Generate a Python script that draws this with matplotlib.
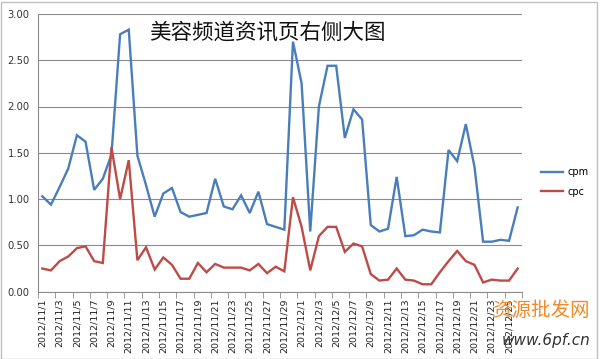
import matplotlib
matplotlib.use("Agg")
import matplotlib.pyplot as plt
from matplotlib.patches import Rectangle
import numpy as np
import datetime as dt

plt.rcParams['font.family'] = ['DejaVu Sans', 'Noto Sans CJK SC']

start = dt.date(2012, 11, 1)
dates = [start + dt.timedelta(days=i) for i in range(56)]
categories = [f"{d.year}/{d.month}/{d.day}" for d in dates]

cpm = [1.03, 0.94, 1.13, 1.33, 1.69, 1.62, 1.10, 1.22, 1.48, 2.78, 2.83,
       1.47, 1.15, 0.81, 1.06, 1.12, 0.86, 0.81, 0.83, 0.85, 1.22,
       0.92, 0.89, 1.04, 0.85, 1.08, 0.73, 0.70, 0.67, 2.70, 2.25,
       0.65, 2.00, 2.44, 2.44, 1.66, 1.97, 1.86, 0.72, 0.65, 0.68,
       1.24, 0.60, 0.61, 0.67, 0.65, 0.64, 1.53, 1.41, 1.81, 1.35,
       0.54, 0.54, 0.56, 0.55, 0.91]
cpc = [0.25, 0.23, 0.33, 0.38, 0.47, 0.49, 0.33, 0.31, 1.56, 1.00, 1.42,
       0.34, 0.48, 0.24, 0.37, 0.29, 0.14, 0.14, 0.31, 0.21, 0.30,
       0.26, 0.26, 0.26, 0.23, 0.30, 0.20, 0.27, 0.22, 1.02, 0.70,
       0.23, 0.60, 0.70, 0.70, 0.43, 0.52, 0.49, 0.19, 0.12, 0.13,
       0.25, 0.13, 0.12, 0.08, 0.08, 0.21, 0.33, 0.44, 0.33, 0.29,
       0.10, 0.13, 0.12, 0.12, 0.25]
series_names = ["cpm", "cpc"]
title = "美容频道资讯页右侧大图"

fig = plt.figure(figsize=(6.0, 3.59), dpi=100)
ax = fig.add_axes([38/600, 1 - 291.7/359, (522-38)/600, (291.7-13.9)/359])

# light frame like the spreadsheet chart area
fig.patches.append(Rectangle((0.5/600, 0), 596/600, 1 - 1.5/359, transform=fig.transFigure,
                             fill=False, edgecolor="#BFBFBF", lw=1.0))

x = np.arange(len(categories))
ax.plot(x, cpm, color="#4A7EBB", lw=1.7, label=series_names[0], solid_joinstyle='miter')
ax.plot(x, cpc, color="#BE4B48", lw=1.7, label=series_names[1], solid_joinstyle='miter')

ax.set_xlim(-0.5, len(categories) - 0.5)
ax.set_ylim(0, 3.0)
yt = np.arange(0, 3.01, 0.5)
ax.set_yticks(yt)
ax.set_yticklabels([f"{v:.2f}" for v in yt], fontsize=7.2, color="#333333")
ax.yaxis.grid(True, color="#8C8C8C", lw=0.8)
ax.set_axisbelow(True)
ax.tick_params(axis='y', length=0, pad=6)

ax.set_xticks(x[::2])
ax.set_xticklabels(categories[::2], rotation=90, fontsize=6.8, color="#222222")
ax.set_xticks(np.arange(-0.5, len(categories), 2), minor=True)
ax.tick_params(axis='x', which='major', length=0, pad=5)
ax.tick_params(axis='x', which='minor', length=4, color="#8C8C8C")

for s in ['top', 'right']:
    ax.spines[s].set_visible(False)
for s in ['left', 'bottom']:
    ax.spines[s].set_color("#8C8C8C")
    ax.spines[s].set_linewidth(0.8)

fig.text(267/600, 1 - 33/359, title, fontsize=15.5, family=['Noto Sans CJK SC'],
         fontweight='medium', ha='center', va='center', color='#111111')

fig.legend(loc='center left', bbox_to_anchor=(532/600, 1 - 182/359), frameon=False,
           fontsize=7, handlelength=2.3, labelspacing=1.0, handletextpad=0.4)

fig.text(590/600, 1 - 311/359, "资源批发网", fontsize=14, family=['Noto Sans CJK SC'],
         ha='right', va='center', color='#F08A2A')
fig.text(590/600, 1 - 341/359, "www.6pf.cn", fontsize=11, ha='right', va='center',
         color='#333333', style='italic')

fig.savefig("out.png", dpi=100)
